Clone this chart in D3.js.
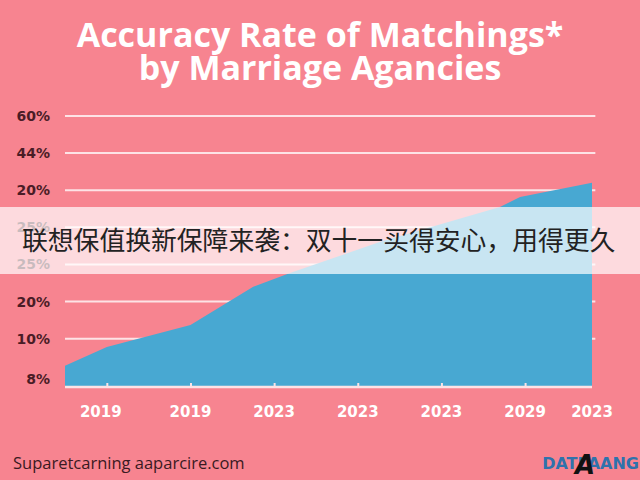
<!DOCTYPE html>
<html>
<head>
<meta charset="utf-8">
<script src="https://cdn.jsdelivr.net/npm/d3@7"></script>
<style>
html,body{margin:0;padding:0;background:#F78490;}
svg{display:block;}
</style>
</head>
<body>
<script>
// ---- data ----
const titleLines = ["Accuracy Rate of Matchings*", "by Marriage Agancies"];
const xTickLabels = ["2019", "2019", "2023", "2023", "2023", "2029", "2023"];
const xTickPositions = [0, 1, 2, 3, 4, 5, 5.8];
const yTickLabels = ["8%", "10%", "20%", "25%", "25%", "20%", "44%", "60%"];
const yTickValues = [0, 10, 20, 30, 40, 50, 60, 70];
const seriesX = [-0.5, 0, 1, 1.75, 2.19, 3.27, 4.7, 4.94, 5.8];
const seriesY = [2.7, 7.8, 13.7, 24.0, 27.7, 36.1, 45.5, 48.2, 52.0];
const bannerText = "联想保值换新保障来袭：双十一买得安心，用得更久";
const footerText = "Suparetcarning aaparcire.com";
const logoText = "DATLAANG";

const W = 640, H = 480;
const svg = d3.select("body").append("svg").attr("width", W).attr("height", H);

svg.append("rect").attr("width", W).attr("height", H).attr("fill", "#F78490");

const x = d3.scaleLinear().domain([-0.5, 5.8]).range([65, 592]);
const y = d3.scaleLinear().domain([-3, 70]).range([387, 116]);

// gridlines
svg.append("g").selectAll("line").data(yTickValues.slice(1)).join("line")
  .attr("x1", x(-0.5)).attr("x2", x(5.84))
  .attr("y1", d => y(d)).attr("y2", d => y(d))
  .attr("stroke", "#fde3e6").attr("stroke-width", 2);

// area
const data = seriesX.map((v, i) => ({x: v, y: seriesY[i]}));
svg.append("path").datum(data)
  .attr("fill", "#48A8D2")
  .attr("d", d3.area().x(d => x(d.x)).y0(y(-3)).y1(d => y(d.y)));

// baseline with ticks
const xAxis = d3.axisBottom(x).tickValues(xTickPositions.slice(0, 6)).tickSize(-4).tickFormat("");
const gx = svg.append("g").attr("transform", `translate(0,${y(-3)})`).call(xAxis);
gx.select(".domain").attr("stroke", "#fde3e6").attr("stroke-width", 2.5).attr("d", `M${x(-0.5)},0H${x(5.8)}`);
gx.selectAll(".tick line").attr("stroke", "#fde3e6").attr("stroke-width", 2);

// x labels
svg.append("g").selectAll("text").data(xTickPositions).join("text")
  .attr("x", d => x(d) + (d === 0 ? -6 : 0)).attr("y", 417)
  .attr("text-anchor", "middle")
  .attr("font-family", "'DejaVu Sans', sans-serif").attr("font-weight", "bold")
  .attr("font-size", 15).attr("fill", "#ffffff")
  .text((d, i) => xTickLabels[i]);

// y labels
svg.append("g").selectAll("text").data(yTickValues).join("text")
  .attr("x", 50).attr("y", d => y(d) + 5 + (d === 0 ? 3 : 0))
  .attr("text-anchor", "end")
  .attr("font-family", "'DejaVu Sans', sans-serif").attr("font-weight", "bold")
  .attr("font-size", 14).attr("fill", "#4a1c26")
  .text((d, i) => yTickLabels[i]);

// title
svg.append("g").selectAll("text").data(titleLines).join("text")
  .attr("x", 320).attr("y", (d, i) => 47 + i * 33)
  .attr("text-anchor", "middle")
  .attr("font-family", "'Open Sans', sans-serif").attr("font-weight", 700)
  .attr("font-size", 34).attr("fill", "#ffffff")
  .text(d => d);

// banner overlay
svg.append("rect").attr("x", 0).attr("y", 207).attr("width", W).attr("height", 67)
  .attr("fill", "#ffffff").attr("fill-opacity", 0.7);
svg.append("text").attr("x", 22).attr("y", 250)
  .attr("font-family", "'Noto Sans CJK SC', sans-serif")
  .attr("font-size", 25.8).attr("fill", "#222222")
  .text(bannerText);

// footer
svg.append("text").attr("x", 13).attr("y", 469)
  .attr("font-family", "'Open Sans', sans-serif")
  .attr("font-size", 16.5).attr("fill", "#3a1a22")
  .text(footerText);
svg.append("text").attr("x", 639).attr("y", 469).attr("text-anchor", "end")
  .attr("font-family", "'DejaVu Sans', sans-serif").attr("font-weight", "bold")
  .attr("font-size", 16).attr("fill", "#2f72ac")
  .text(logoText);
svg.append("text").attr("x", 585).attr("y", 474).attr("text-anchor", "middle")
  .attr("font-family", "'DejaVu Sans', sans-serif").attr("font-style", "italic").attr("font-weight", "bold")
  .attr("font-size", 26).attr("fill", "#111111")
  .text("A");
</script>
</body>
</html>
